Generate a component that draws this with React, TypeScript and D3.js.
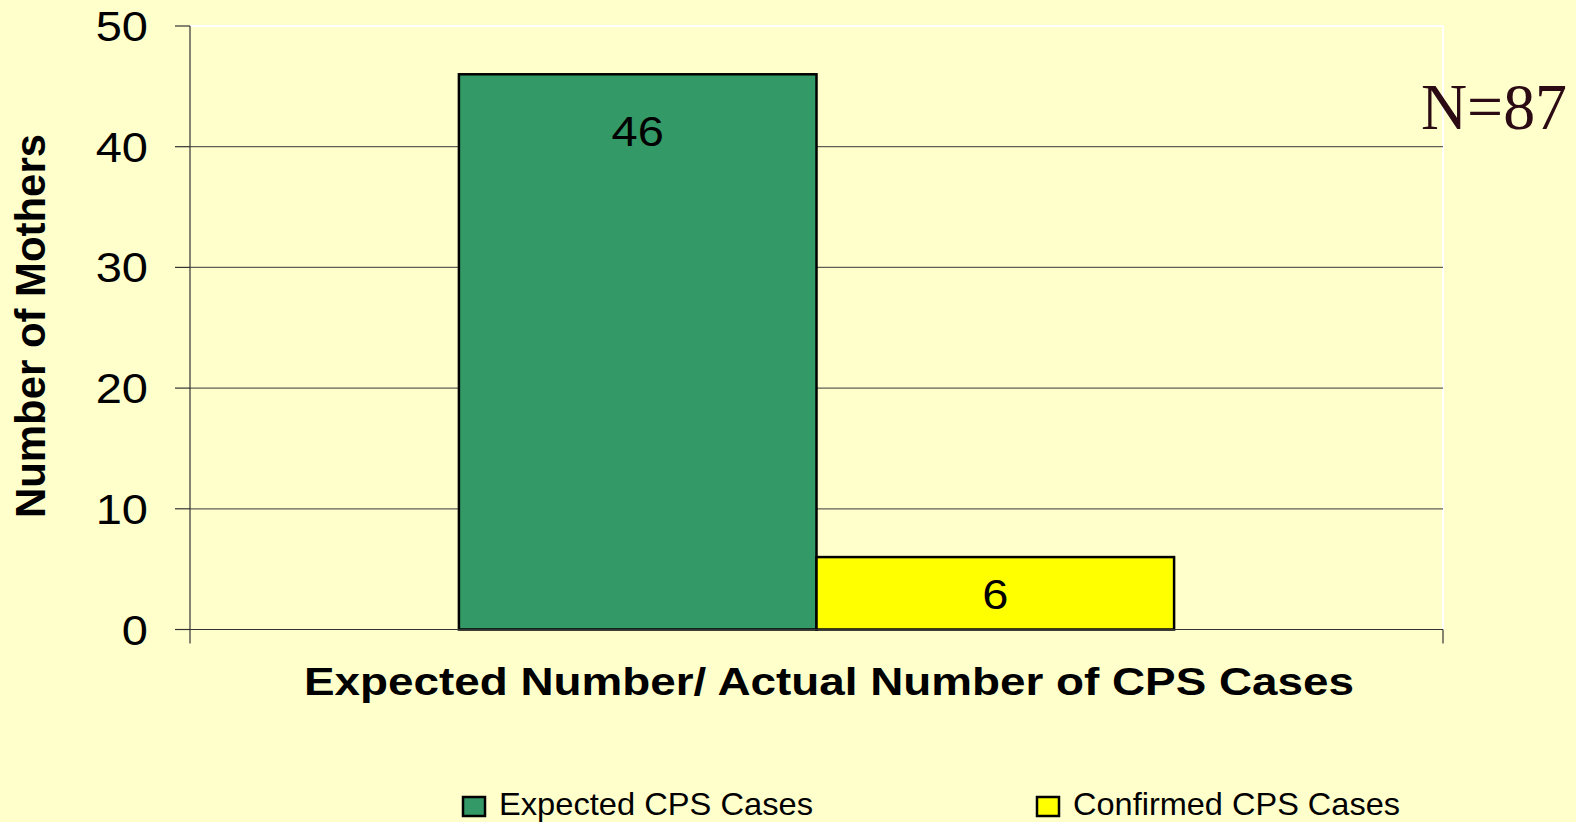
import React from "react";
import * as d3 from "d3";

const categories = ["Expected Number/ Actual Number of CPS Cases"];
const seriesNames = ["Expected CPS Cases", "Confirmed CPS Cases"];
const seriesValues = [46, 6];
const seriesColors = ["#339966", "#FFFF00"];
const yTicks = [0, 10, 20, 30, 40, 50];
const annotation = "N=87";
const yTitle = "Number of Mothers";

const W = 1576;
const H = 822;
const plot = { left: 190, right: 1443, top: 26, bottom: 629.5 };

export default function App() {
  const y = d3.scaleLinear().domain([0, 50]).range([plot.bottom, plot.top]);
  const x0 = d3.scaleBand<string>().domain(categories).range([plot.left, plot.right]).padding(0);
  const x1 = d3
    .scaleBand<string>()
    .domain(seriesNames)
    .range([0, x0.bandwidth()])
    .paddingInner(0)
    .paddingOuter(0.752);

  const font = "'Liberation Sans', Arial, sans-serif";
  const bg = "#FFFFCC";
  const grid = "#5f5f55";

  return (
    <svg
      width={W}
      height={H}
      style={{ position: "absolute", left: 0, top: 0, display: "block" }}
      fontFamily={font}
    >
      <rect x={0} y={0} width={W} height={H} fill={bg} />
      {/* plot area border (white) top and right */}
      <line x1={plot.left} x2={plot.right} y1={plot.top} y2={plot.top} stroke="#ffffff" strokeWidth={2} />
      <line x1={plot.right} x2={plot.right} y1={plot.top} y2={plot.bottom} stroke="#ffffff" strokeWidth={2} />

      {/* gridlines */}
      {yTicks
        .filter((t) => t !== 0 && t !== 50)
        .map((t) => (
          <line key={"g" + t} x1={plot.left} x2={plot.right} y1={y(t)} y2={y(t)} stroke={grid} strokeWidth={1.2} />
        ))}

      {/* y tick marks and labels */}
      {yTicks.map((t) => (
        <g key={"t" + t}>
          <line x1={plot.left - 15} x2={plot.left} y1={y(t)} y2={y(t)} stroke="#333" strokeWidth={1.2} />
          <text
            transform={`translate(148, ${y(t) + 15}) scale(1.12, 1)`}
            textAnchor="end"
            fontSize={42}
            fill="#000"
          >
            {t}
          </text>
        </g>
      ))}

      {/* bars */}
      {categories.map((c) =>
        seriesNames.map((s, i) => {
          const v = seriesValues[i];
          const bx = (x0(c) ?? 0) + (x1(s) ?? 0);
          const bw = x1.bandwidth();
          const top = y(v);
          const bh = y(0) - top;
          const cx = bx + bw / 2;
          const by = Math.min(top + 72, top + bh / 2 + 16);
          return (
            <g key={s}>
              <rect x={bx} y={top} width={bw} height={bh} fill={seriesColors[i]} stroke="#000" strokeWidth={2.5} />
              <text
                transform={`translate(${cx}, ${by}) scale(1.12, 1)`}
                textAnchor="middle"
                fontSize={42}
                fill="#000"
              >
                {v}
              </text>
            </g>
          );
        })
      )}

      {/* axes */}
      <line x1={plot.left} x2={plot.left} y1={plot.top} y2={plot.bottom + 14} stroke="#333" strokeWidth={1.2} />
      <line x1={plot.left} x2={plot.right} y1={plot.bottom} y2={plot.bottom} stroke="#333" strokeWidth={1.2} />
      <line x1={plot.right} x2={plot.right} y1={plot.bottom} y2={plot.bottom + 14} stroke="#333" strokeWidth={1.2} />

      {/* x title */}
      <text
        x={829}
        y={695}
        textAnchor="middle"
        fontSize={39}
        fontWeight="bold"
        textLength={1050}
        lengthAdjust="spacingAndGlyphs"
        fill="#000"
      >
        {categories[0]}
      </text>

      {/* y title */}
      <text
        transform={`translate(45, 326) rotate(-90)`}
        textAnchor="middle"
        fontSize={42}
        fontWeight="bold"
        textLength={384}
        lengthAdjust="spacingAndGlyphs"
        fill="#000"
      >
        {yTitle}
      </text>

      {/* annotation */}
      <text
        x={1421}
        y={129}
        fontFamily="'Liberation Serif', 'Times New Roman', serif"
        fontSize={65}
        textLength={146}
        lengthAdjust="spacingAndGlyphs"
        fill="#2b0a14"
      >
        {annotation}
      </text>

      {/* legend */}
      {seriesNames.map((s, i) => {
        const lx = [463, 1037][i];
        const tw = [314, 327][i];
        return (
          <g key={"l" + s}>
            <rect x={lx} y={797} width={22} height={19} fill={seriesColors[i]} stroke="#000" strokeWidth={2.5} />
            <text
              x={lx + 36}
              y={815}
              fontSize={32}
              textLength={tw}
              lengthAdjust="spacingAndGlyphs"
              fill="#000"
            >
              {s}
            </text>
          </g>
        );
      })}
    </svg>
  );
}
